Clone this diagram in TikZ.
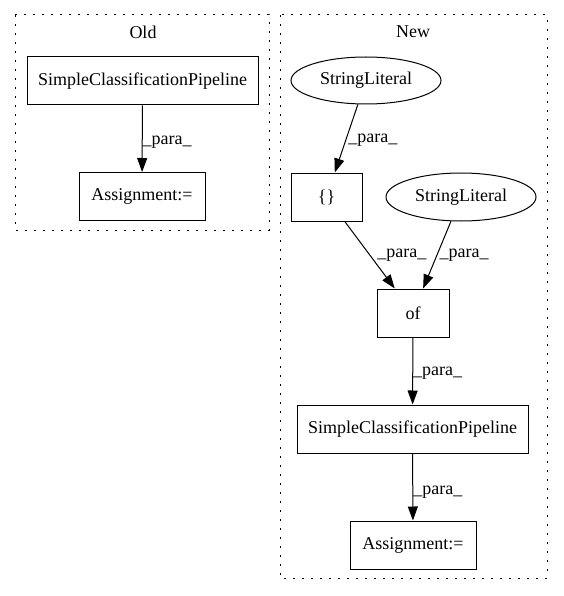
\documentclass[tikz,border=0pt]{standalone}
\usepackage{fontspec}
\setmainfont{Liberation Serif}
\usepackage{tikz}
\usetikzlibrary{shapes.geometric,arrows.meta}
\tikzset{
opbox/.style={draw,line width=1pt,inner sep=0pt,minimum height=48pt},
strlit/.style={draw,ellipse,line width=1pt,inner sep=0pt,minimum width=150pt,minimum height=47pt},
paralbl/.style={anchor=west,inner sep=2pt},
flow/.style={-{Triangle[length=14pt,width=10pt]},line width=1pt},
clusterbox/.style={line width=1pt,dash pattern=on 2pt off 7pt}
}

\begin{document}
\begin{tikzpicture}[x=1pt,y=-1pt,font=\fontsize{18}{21}\selectfont]
\useasboundingbox (0,0) rectangle (563,596);
%old
\draw[clusterbox] (15,15) rectangle (269,230);
\node (oldtitle) at (143,32) {Old};
\node[opbox,minimum width=231pt] (oldpipe) at (142.5,81) {SimpleClassificationPipeline};
\node[opbox,minimum width=126pt] (oldassign) at (142,196.5) {Assignment:=};
\draw[flow] (oldpipe) -- node[paralbl,pos=0.55,inner sep=0pt] {\_para\_} (oldassign);
%new
\draw[clusterbox] (280,15) rectangle (547,578);
\node (newtitle) at (413,32) {New};
\node[strlit] (lit1) at (366,80.5) {StringLiteral};
\node[opbox,minimum width=71pt] (braces) at (326.5,197) {\{\}};
\node[strlit,minimum height=48pt] (lit2) at (461,197) {StringLiteral};
\node[opbox,minimum width=72pt] (of) at (413,313) {of};
\node[opbox,minimum width=231pt] (newpipe) at (412.5,429) {SimpleClassificationPipeline};
\node[opbox,minimum width=126pt] (newassign) at (413,545) {Assignment:=};
\draw[flow] (lit1) -- node[paralbl,pos=0.52] {\_para\_} (braces);
\draw[flow] (braces) -- node[paralbl,pos=0.5,xshift=5pt] {\_para\_} (of);
\draw[flow] (lit2) -- node[paralbl,pos=0.5] {\_para\_} (of);
\draw[flow] (of) -- node[paralbl,pos=0.53,inner sep=0pt] {\_para\_} (newpipe);
\draw[flow] (newpipe) -- node[paralbl,pos=0.58,inner sep=0pt] {\_para\_} (newassign);
\end{tikzpicture}
\end{document}
